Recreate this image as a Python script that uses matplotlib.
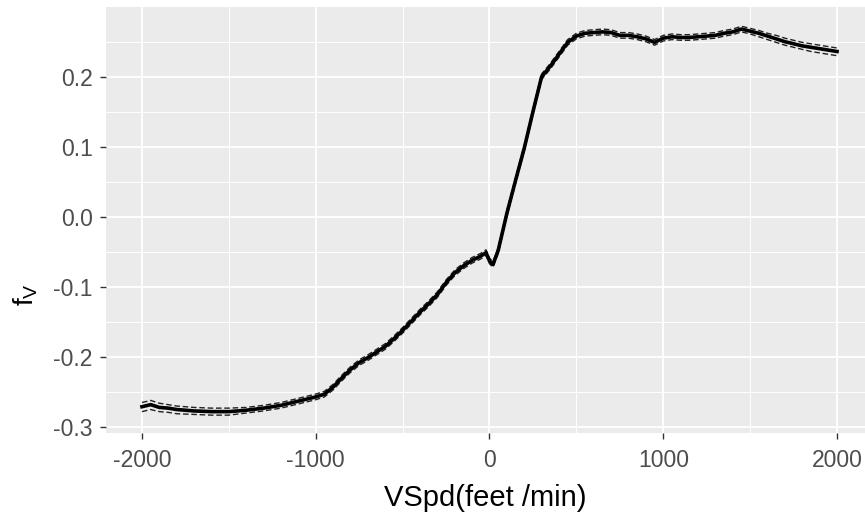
import matplotlib
matplotlib.use("Agg")
import matplotlib.pyplot as plt

plt.rcParams['font.family'] = ['Liberation Sans', 'DejaVu Sans']
plt.rcParams['axes.unicode_minus'] = False

vspd = [-2000, -1950, -1900, -1850, -1800, -1700, -1600, -1500, -1400, -1300,
        -1200, -1100, -1000, -950, -900, -850, -800, -750, -700, -650,
        -600, -550, -500, -450, -400, -350, -300, -250, -200, -150,
        -100, -50, -20, 0, 20, 50, 100, 150, 200, 250,
        300, 350, 400, 450, 500, 550, 600, 650, 700, 750,
        800, 850, 900, 950, 1000, 1050, 1100, 1150, 1200, 1250,
        1300, 1350, 1400, 1450, 1500, 1550, 1600, 1650, 1700, 1750,
        1800, 1850, 1900, 1950, 2000]

fv = [-0.271, -0.268, -0.272, -0.273, -0.275, -0.277, -0.278, -0.278, -0.276, -0.273,
      -0.269, -0.263, -0.257, -0.253, -0.243, -0.230, -0.218, -0.208, -0.201, -0.193,
      -0.185, -0.174, -0.162, -0.149, -0.136, -0.124, -0.111, -0.094, -0.080, -0.070,
      -0.062, -0.056, -0.051, -0.063, -0.068, -0.048, 0.005, 0.052, 0.098, 0.150,
      0.200, 0.215, 0.232, 0.249, 0.258, 0.262, 0.263, 0.264, 0.263, 0.259,
      0.259, 0.257, 0.254, 0.249, 0.255, 0.257, 0.256, 0.256, 0.257, 0.258,
      0.259, 0.262, 0.264, 0.268, 0.265, 0.262, 0.258, 0.254, 0.250, 0.247,
      0.244, 0.242, 0.240, 0.238, 0.236]

fv_lower = [-0.278, -0.275, -0.278, -0.279, -0.281, -0.282, -0.283, -0.283, -0.280, -0.277,
            -0.273, -0.267, -0.261, -0.257, -0.247, -0.234, -0.222, -0.212, -0.205, -0.197,
            -0.189, -0.178, -0.166, -0.153, -0.140, -0.128, -0.115, -0.098, -0.084, -0.074,
            -0.066, -0.060, -0.055, -0.067, -0.072, -0.052, 0.001, 0.048, 0.094, 0.146,
            0.196, 0.211, 0.228, 0.245, 0.254, 0.258, 0.259, 0.260, 0.259, 0.255,
            0.255, 0.253, 0.250, 0.245, 0.251, 0.253, 0.252, 0.252, 0.253, 0.254,
            0.255, 0.258, 0.260, 0.264, 0.261, 0.257, 0.253, 0.249, 0.245, 0.242,
            0.239, 0.236, 0.234, 0.232, 0.230]

fv_upper = [-0.265, -0.262, -0.266, -0.268, -0.270, -0.272, -0.273, -0.273, -0.272, -0.269,
            -0.265, -0.259, -0.253, -0.249, -0.239, -0.226, -0.214, -0.204, -0.197, -0.189,
            -0.181, -0.170, -0.158, -0.145, -0.132, -0.120, -0.107, -0.090, -0.076, -0.066,
            -0.058, -0.052, -0.047, -0.059, -0.064, -0.044, 0.009, 0.056, 0.102, 0.154,
            0.204, 0.219, 0.236, 0.253, 0.262, 0.266, 0.267, 0.268, 0.267, 0.263,
            0.263, 0.261, 0.258, 0.253, 0.259, 0.261, 0.260, 0.260, 0.261, 0.262,
            0.263, 0.266, 0.268, 0.272, 0.269, 0.266, 0.262, 0.259, 0.255, 0.252,
            0.249, 0.247, 0.245, 0.243, 0.241]

x_ticks = [-2000, -1000, 0, 1000, 2000]
x_minor = [-1500, -500, 500, 1500]
y_ticks = [-0.3, -0.2, -0.1, 0.0, 0.1, 0.2]
y_minor = [-0.25, -0.15, -0.05, 0.05, 0.15, 0.25]
y_tick_labels = ["-0.3", "-0.2", "-0.1", "0.0", "0.1", "0.2"]

fig = plt.figure(figsize=(8.65, 5.21), dpi=100)
ax = fig.add_axes([106 / 865, (521 - 433) / 521, 1 - 106 / 865, (433 - 7) / 521])
ax.set_facecolor('#EBEBEB')
for s in ax.spines.values():
    s.set_visible(False)

ax.set_xlim(-2207, 2161)
ax.set_ylim(-0.3085, 0.2995)
ax.set_xticks(x_ticks)
ax.set_xticks(x_minor, minor=True)
ax.set_yticks(y_ticks)
ax.set_yticklabels(y_tick_labels)
ax.set_yticks(y_minor, minor=True)

ax.grid(which='major', color='white', linewidth=1.3)
ax.grid(which='minor', color='white', linewidth=0.7)
ax.set_axisbelow(True)
ax.tick_params(which='major', length=4.5, width=1.0, color='#333333',
               labelsize=16.5, labelcolor='#4D4D4D')
ax.tick_params(axis='x', which='major', pad=7)
ax.tick_params(axis='y', which='major', pad=5)
ax.tick_params(which='minor', length=0)

ax.plot(vspd, fv_lower, color='#222222', linewidth=1.0, linestyle=(0, (4, 2)))
ax.plot(vspd, fv_upper, color='#222222', linewidth=1.0, linestyle=(0, (4, 2)))
ax.plot(vspd, fv, color='black', linewidth=2.6)

ax.set_xlabel("VSpd(feet /min)", fontsize=21, color='black', labelpad=9)
ax.set_ylabel("f$_\\mathregular{V}$", fontsize=20, color='black')
ax.yaxis.set_label_coords(-0.087, 0.324)

fig.savefig("out.png", dpi=100)
